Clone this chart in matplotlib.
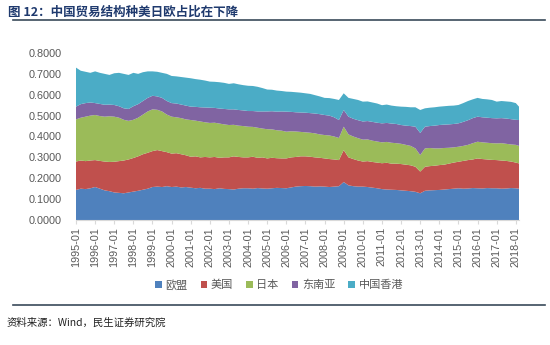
import numpy as np
import pandas as pd
import matplotlib
matplotlib.use("Agg")
import matplotlib.pyplot as plt
from matplotlib.patches import Patch
from matplotlib.lines import Line2D

plt.rcParams['font.family'] = ['Liberation Sans', 'Noto Sans CJK SC', 'DejaVu Sans']

# 季度数据 1995-01 ... 2018-01，外加 2018-03
dates = list(pd.date_range("1995-01-01", "2018-01-01", freq="QS")) + [pd.Timestamp("2018-03-01")]

eu = [.144, .150, .148, .152, .158, .150, .142, .138, .132, .130, .128, .132,
      .136, .140, .145, .150, .158, .160, .158, .162, .158, .160, .156, .158,
      .155, .152, .154, .150, .150, .148, .152, .149, .148, .146, .150, .152,
      .152, .150, .153, .151, .150, .152, .154, .153, .152, .156, .160, .162,
      .163, .162, .160, .161, .160, .158, .160, .162, .182, .166, .162, .160,
      .160, .158, .155, .152, .148, .146, .145, .144, .142, .140, .138, .135,
      .128, .140, .142, .143, .144, .146, .148, .150, .152, .150, .151, .153,
      .152, .151, .153, .152, .152, .150, .151, .153, .152, .150]
us = [.136, .135, .134, .133, .129, .133, .138, .140, .147, .152, .157, .158,
      .161, .165, .170, .172, .172, .175, .172, .163, .160, .160, .159, .152,
      .148, .153, .146, .152, .150, .154, .146, .151, .152, .159, .152, .148,
      .148, .153, .145, .149, .145, .146, .142, .142, .143, .144, .142, .143,
      .142, .141, .140, .137, .135, .134, .130, .125, .153, .134, .130, .125,
      .120, .124, .123, .123, .124, .128, .125, .126, .126, .125, .124, .120,
      .104, .115, .116, .117, .119, .119, .122, .125, .127, .133, .136, .137,
      .143, .141, .137, .136, .135, .135, .132, .127, .123, .121]
jp = [.202, .205, .213, .215, .216, .215, .215, .219, .216, .208, .195, .185,
      .183, .185, .190, .198, .200, .193, .190, .180, .177, .172, .173, .172,
      .176, .171, .172, .166, .165, .164, .164, .158, .155, .151, .150, .150,
      .147, .143, .144, .138, .140, .136, .134, .133, .128, .125, .122, .117,
      .115, .115, .115, .112, .112, .113, .110, .106, .112, .110, .108, .107,
      .105, .104, .102, .101, .100, .100, .100, .098, .097, .095, .093, .088,
      .079, .088, .087, .083, .080, .080, .076, .073, .072, .072, .073, .078,
      .080, .080, .080, .080, .080, .083, .082, .082, .085, .084]
asean = [.061, .065, .065, .063, .057, .058, .057, .056, .056, .055, .055, .057,
         .065, .065, .065, .065, .065, .064, .065, .065, .065, .066, .065, .066,
         .064, .066, .068, .071, .073, .071, .072, .074, .075, .074, .075, .075,
         .075, .076, .078, .082, .085, .087, .089, .092, .096, .093, .092, .093,
         .094, .094, .095, .097, .096, .095, .092, .086, .080, .085, .085, .086,
         .087, .088, .090, .090, .091, .091, .092, .092, .090, .092, .095, .104,
         .106, .104, .105, .109, .112, .112, .112, .112, .112, .115, .118, .120,
         .120, .120, .120, .120, .120, .120, .121, .121, .120, .124]
hk = [.187, .160, .150, .142, .152, .149, .148, .142, .152, .160, .165, .163,
      .160, .145, .138, .127, .117, .118, .120, .130, .130, .130, .132, .134,
      .136, .133, .132, .129, .125, .125, .126, .125, .122, .125, .123, .121,
      .121, .120, .118, .112, .105, .103, .101, .098, .096, .096, .096, .095,
      .093, .092, .088, .085, .082, .084, .088, .096, .080, .090, .095, .097,
      .095, .094, .093, .092, .087, .088, .086, .085, .088, .090, .090, .093,
      .110, .088, .088, .088, .088, .088, .089, .088, .088, .090, .092, .090,
      .090, .088, .088, .087, .080, .082, .082, .083, .080, .064]

names = ["欧盟", "美国", "日本", "东南亚", "中国香港"]
colors = ["#4F81BD", "#C0504D", "#9BBB59", "#8064A2", "#4BACC6"]
years = list(range(1995, 2019))

# 月份序号作横轴（类别轴，每月一格）
x = np.array([(d.year - 1995) * 12 + d.month - 1 for d in dates])

fig = plt.figure(figsize=(5.5, 3.45), dpi=100)
ax = fig.add_axes([76 / 550, 125 / 345, 443 / 550, 167 / 345])

ax.stackplot(x, eu, us, jp, asean, hk, colors=colors, linewidth=0)

ax.set_xlim(0, x[-1])
ax.set_ylim(0, 0.8)
ax.set_yticks(np.arange(0, 0.81, 0.1))
ax.set_yticklabels([f"{v:.4f}" for v in np.arange(0, 0.81, 0.1)])
ax.set_xticks([(y - 1995) * 12 for y in years])
ax.set_xticklabels([f"{y}-01" for y in years], rotation=90)

for s in ["top", "right", "left"]:
    ax.spines[s].set_visible(False)
ax.spines["bottom"].set_color("#D9D9D9")
ax.tick_params(axis="y", length=0, pad=10, labelsize=7.8, labelcolor="#595959")
ax.tick_params(axis="x", length=3, color="#D9D9D9", pad=2, labelsize=7.8, labelcolor="#595959")

# 图例
handles = [Patch(facecolor=c, edgecolor="none") for c in colors]
fig.legend(handles, names, loc="center", bbox_to_anchor=(279 / 550, 1 - 285 / 345),
           ncol=5, frameon=False, handlelength=0.6, handleheight=0.6,
           handletextpad=0.3, columnspacing=1.2, labelcolor="#595959",
           prop={"family": ["Noto Sans CJK SC"], "size": 8})

# 标题和上下分隔线
fig.text(8 / 550, 1 - 12 / 345, "图 12：中国贸易结构种美日欧占比在下降", fontsize=9,
         fontweight="bold", color="#1F3A6E", va="center", ha="left",
         family=["Noto Sans CJK SC", "DejaVu Sans"])
fig.add_artist(Line2D([13 / 550, 545 / 550], [1 - 20 / 345] * 2, color="#3A4A5A", lw=1.2))
fig.add_artist(Line2D([13 / 550, 545 / 550], [1 - 305 / 345] * 2, color="#3A4A5A", lw=1.2))
fig.text(7 / 550, 1 - 323 / 345, "资料来源：Wind，民生证券研究院", fontsize=7.5,
         color="#222222", va="center", ha="left", family=["Noto Sans CJK SC", "DejaVu Sans"])

fig.savefig("out.png", dpi=100)
